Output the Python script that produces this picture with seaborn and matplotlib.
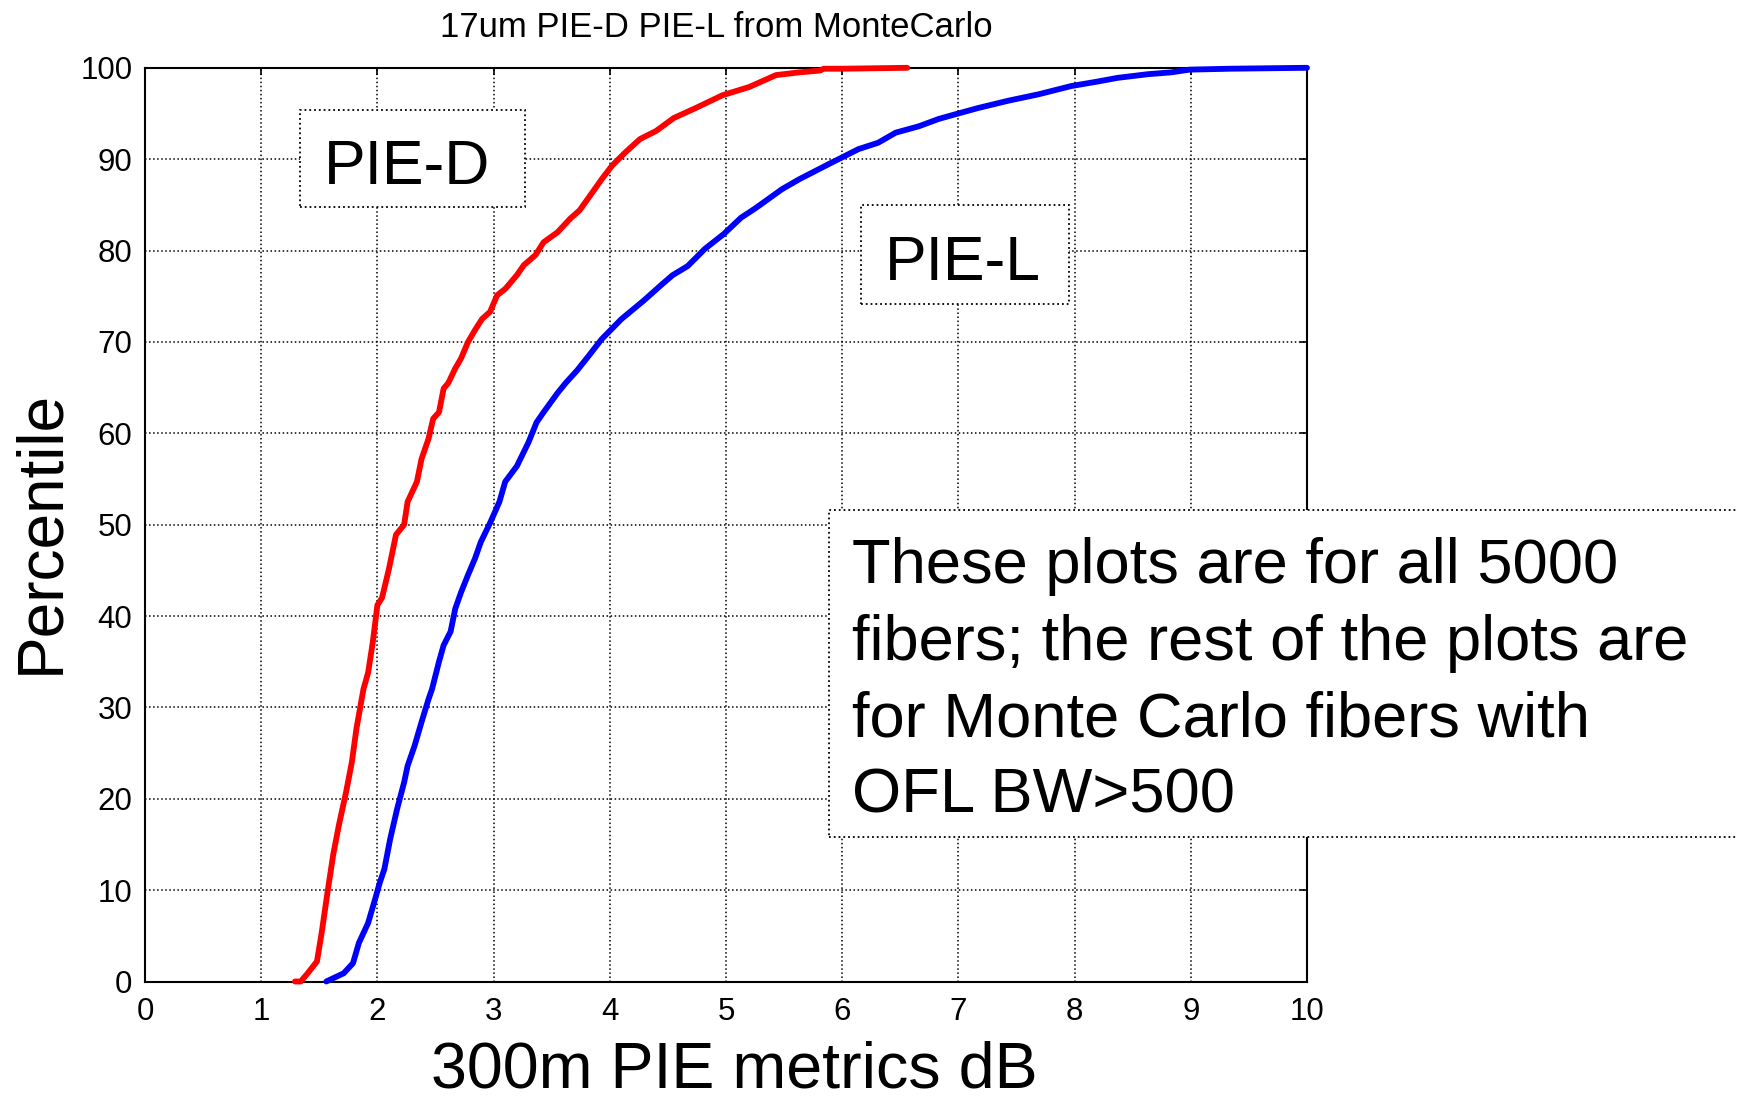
import matplotlib
matplotlib.use("Agg")
import numpy as np
import pandas as pd
import matplotlib.pyplot as plt
import seaborn as sns
from matplotlib.patches import Rectangle

# ---- data (cumulative percentile curves) ----
red_x = [1.29, 1.34, 1.40, 1.48, 1.52, 1.57, 1.62, 1.67, 1.73, 1.78, 1.82, 1.88, 1.92, 1.96,
         2.00, 2.04, 2.10, 2.16, 2.23, 2.26, 2.34, 2.38, 2.44, 2.48, 2.53, 2.57, 2.61, 2.67,
         2.72, 2.78, 2.84, 2.90, 2.97, 3.03, 3.10, 3.20, 3.26, 3.36, 3.43, 3.55, 3.66, 3.74,
         3.83, 3.93, 4.02, 4.13, 4.26, 4.40, 4.55, 4.74, 4.97, 5.20, 5.43, 5.63, 5.81, 5.84,
         6.00, 6.56]
red_y = [0, 0, 0.9, 2.2, 5.3, 9.7, 13.9, 17.2, 20.7, 24.0, 27.7, 32.0, 33.8, 37.1,
         41.2, 42.0, 45.2, 48.9, 50.0, 52.5, 54.7, 57.2, 59.4, 61.6, 62.3, 64.9, 65.5, 67.1,
         68.2, 70.0, 71.3, 72.5, 73.3, 75.1, 75.8, 77.3, 78.4, 79.5, 80.9, 82.0, 83.5, 84.4,
         86.0, 87.8, 89.3, 90.7, 92.2, 93.1, 94.5, 95.6, 97.0, 97.9, 99.2, 99.5, 99.7, 99.9,
         99.9, 100]

blue_x = [1.56, 1.71, 1.79, 1.84, 1.92, 1.98, 2.02, 2.06, 2.11, 2.17, 2.23, 2.26, 2.32, 2.38,
          2.44, 2.47, 2.53, 2.57, 2.63, 2.67, 2.72, 2.78, 2.84, 2.89, 2.97, 3.05, 3.10, 3.20,
          3.30, 3.37, 3.43, 3.55, 3.62, 3.72, 3.82, 3.93, 4.10, 4.29, 4.44, 4.54, 4.67, 4.82,
          4.98, 5.13, 5.25, 5.36, 5.48, 5.63, 5.89, 6.00, 6.14, 6.31, 6.46, 6.66, 6.83, 6.97,
          7.17, 7.43, 7.69, 7.97, 8.20, 8.37, 8.63, 8.83, 8.99, 9.34, 10.0]
blue_y = [0, 0.9, 2.0, 4.2, 6.4, 9.0, 10.8, 12.3, 15.6, 18.9, 21.8, 23.6, 25.8, 28.4,
          30.9, 32.0, 35.0, 36.8, 38.3, 40.8, 42.6, 44.5, 46.3, 48.1, 50.2, 52.5, 54.7, 56.4,
          59.0, 61.2, 62.3, 64.4, 65.5, 66.9, 68.5, 70.3, 72.5, 74.5, 76.2, 77.3, 78.3, 80.2,
          81.8, 83.6, 84.6, 85.6, 86.7, 87.8, 89.5, 90.2, 91.1, 91.8, 92.9, 93.6, 94.4, 94.9,
          95.6, 96.4, 97.1, 98.0, 98.5, 98.9, 99.3, 99.5, 99.8, 99.9, 100]

series_names = ["PIE-D", "PIE-L"]
series_colors = ["#ff0000", "#0000ff"]
x_ticks = list(range(0, 11))
y_ticks = list(range(0, 101, 10))

title_text = "17um PIE-D PIE-L from MonteCarlo"
xlabel_text = "300m PIE metrics dB"
ylabel_text = "Percentile"
note_lines = ["These plots are for all 5000",
              "fibers; the rest of the plots are",
              "for Monte Carlo fibers with",
              "OFL BW>500"]

# ---- figure ----
sns.set_style("white")
plt.rcParams['font.family'] = ['Liberation Sans', 'DejaVu Sans']
plt.rcParams['text.color'] = 'black'
plt.rcParams['axes.labelcolor'] = 'black'
plt.rcParams['xtick.color'] = 'black'
plt.rcParams['ytick.color'] = 'black'

W, H = 1737, 1101
fig = plt.figure(figsize=(W / 100, H / 100), dpi=100)
ax = fig.add_axes([145 / W, 1 - 981.5 / H, 1162 / W, 913.7 / H])

df = pd.concat([
    pd.DataFrame({"x": red_x, "y": red_y, "s": series_names[0]}),
    pd.DataFrame({"x": blue_x, "y": blue_y, "s": series_names[1]}),
], ignore_index=True)

sns.lineplot(data=df, x="x", y="y", hue="s",
             palette=dict(zip(series_names, series_colors)),
             estimator=None, sort=False, linewidth=4.2, legend=False, ax=ax,
             clip_on=False, zorder=3)

ax.set_xlim(0, 10)
ax.set_ylim(0, 100)
ax.set_xticks(x_ticks)
ax.set_yticks(y_ticks)
ax.set_xticklabels([str(t) for t in x_ticks])
ax.set_yticklabels([str(t) for t in y_ticks])
ax.tick_params(direction="in", length=5, width=1.2, top=True, right=True,
               labelsize=22.5, colors="black")
ax.tick_params(axis="x", pad=11)
ax.tick_params(axis="y", pad=9)
ax.grid(True, color="black", linestyle=":", linewidth=1.1)
ax.set_axisbelow(True)
for sp in ax.spines.values():
    sp.set_visible(True)
    sp.set_color("black")
    sp.set_linewidth(1.5)

ax.set_xlabel(xlabel_text, fontsize=46.5)
ax.xaxis.set_label_coords((734.5 - 145) / 1162, (981.5 - 1088) / 913.7)
ax.xaxis.label.set_va("baseline")
ax.set_ylabel(ylabel_text, fontsize=46)
ax.yaxis.set_label_coords((58 - 145) / 1162, (981.5 - 532) / 913.7)
ax.yaxis.label.set_va("baseline")

ax.set_title(title_text, fontsize=25, x=(716.5 - 145) / 1162,
             y=(981.5 - 37) / 913.7, va="baseline", pad=0, color="black")

# ---- annotation boxes ----
def fbox(x0, y0, x1, y1):
    r = Rectangle((x0 / W, 1 - y1 / H), (x1 - x0) / W, (y1 - y0) / H,
                  transform=fig.transFigure, facecolor="white", edgecolor="black",
                  linestyle=":", linewidth=1.3, zorder=5)
    fig.add_artist(r)

fbox(300, 110, 525, 207)
fig.text(323.7 / W, 1 - 184 / H, series_names[0], fontsize=45, ha="left",
         va="baseline", zorder=6, color="black")
fbox(860.7, 205.3, 1069.3, 304)
fig.text(885 / W, 1 - 280 / H, series_names[1], fontsize=45, ha="left",
         va="baseline", zorder=6, color="black")
fbox(828.8, 510, W + 30, 836.7)
for i, line in enumerate(note_lines):
    fig.text(852 / W, 1 - (583.3 + 76.5 * i) / H, line, fontsize=45.5, ha="left",
             va="baseline", zorder=6, color="black")

fig.savefig("out.png", dpi=100)
